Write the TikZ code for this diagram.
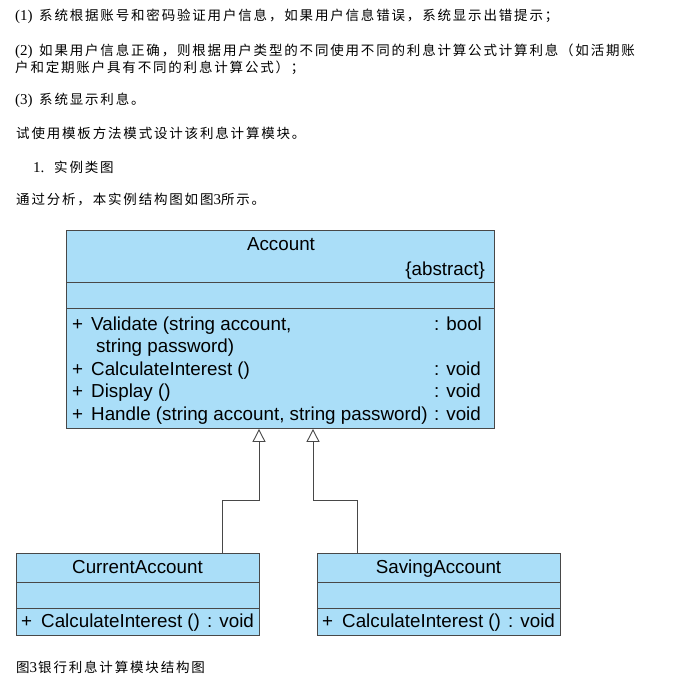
\documentclass[tikz,border=0pt]{standalone}
\usepackage{fontspec}
\setmainfont{Liberation Serif}
\newfontfamily\umlfont{Liberation Sans}
\newfontfamily\cjk[LetterSpace=13.5]{Noto Sans CJK SC}
\newcommand\cj[1]{{\cjk\fontsize{13.5}{16}\selectfont #1}}
\usetikzlibrary{arrows.meta}
\definecolor{umlfill}{RGB}{170,222,248}
\definecolor{umlline}{RGB}{72,72,72}
\tikzset{
  box/.style={draw=umlline, fill=umlfill, line width=0.9pt, rectangle, inner sep=0pt, anchor=north west},
  umltext/.style={font=\umlfont\fontsize{18.8}{22}\selectfont, inner sep=0pt, anchor=base west},
  umlcenter/.style={font=\umlfont\fontsize{18.8}{22}\selectfont, inner sep=0pt, anchor=base},
  para/.style={font=\fontsize{15}{18}\selectfont, inner sep=0pt, anchor=base west},
  gen/.style={draw=umlline, line width=0.9pt, -{Triangle[open, length=13pt, width=13pt]}}
}
\begin{document}
\begin{tikzpicture}[x=1pt,y=-1pt]
\useasboundingbox (0,0) rectangle (695,680);
\fill[white] (0,0) rectangle (695,680);

% ---- paragraph text ----
\node[para] (p1) at (15,20) {\makebox[24pt][l]{(1)}\cj{系统根据账号和密码验证用户信息，如果用户信息错误，系统显示出错提示；}};
\node[para] (p2) at (15,55) {\makebox[24pt][l]{(2)}\cj{如果用户信息正确，则根据用户类型的不同使用不同的利息计算公式计算利息（如活期账}};
\node[para] (p2b) at (15,72) {\cj{户和定期账户具有不同的利息计算公式）；}};
\node[para] (p3) at (15,104) {\makebox[24pt][l]{(3)}\cj{系统显示利息。}};
\node[para] (p4) at (16,138) {\cj{试使用模板方法模式设计该利息计算模块。}};
\node[para] (p5) at (33,172) {\makebox[21pt][l]{1.}\cj{实例类图}};
\node[para] (p6) at (16,204) {\cj{通过分析，本实例结构图如图}3\cj{所示。}};
\node[para] (cap) at (16,672) {\cj{图}3\hspace{1pt}\cj{银行利息计算模块结构图}};

% ---- Account ----
\node[box, minimum width=428pt, minimum height=52pt] (acc) at (66,230) {};
\node[box, minimum width=428pt, minimum height=26pt] (accA) at (66,282) {};
\node[box, minimum width=428pt, minimum height=120pt] (accM) at (66,308) {};
\node[umlcenter] (accN) at (281,250) {Account};
\node[umltext, anchor=base east] (accAb) at (485,275) {\{abstract\}};
\node[umltext] (m1p) at (72,330) {+};
\node[umltext] (m1) at (91,330) {Validate (string account,};
\node[umltext] (m1b) at (96,352.5) {string password)};
\node[umltext] (m1r) at (434,330) {: bool};
\node[umltext] (m2p) at (72,375) {+};
\node[umltext] (m2) at (91,375) {CalculateInterest ()};
\node[umltext] (m2r) at (434,375) {: void};
\node[umltext] (m3p) at (72,397.5) {+};
\node[umltext] (m3) at (91,397.5) {Display ()};
\node[umltext] (m3r) at (434,397.5) {: void};
\node[umltext] (m4p) at (72,420) {+};
\node[umltext] (m4) at (91,420) {Handle (string account, string password)};
\node[umltext] (m4r) at (434,420) {: void};

% ---- CurrentAccount ----
\node[box, minimum width=243pt, minimum height=29pt] (cur) at (16,553) {};
\node[box, minimum width=243pt, minimum height=26pt] (curA) at (16,582) {};
\node[box, minimum width=243pt, minimum height=27pt] (curM) at (16,608) {};
\node[umlcenter] (curN) at (137.5,573) {CurrentAccount};
\node[umltext] (c1p) at (21,627) {+};
\node[umltext] (c1m) at (41,627) {CalculateInterest ()\hspace{2pt} : void};

% ---- SavingAccount ----
\node[box, minimum width=243pt, minimum height=29pt] (sav) at (317,553) {};
\node[box, minimum width=243pt, minimum height=26pt] (savA) at (317,582) {};
\node[box, minimum width=243pt, minimum height=27pt] (savM) at (317,608) {};
\node[umlcenter] (savN) at (438.5,573) {SavingAccount};
\node[umltext] (s1p) at (322,627) {+};
\node[umltext] (s1m) at (342,627) {CalculateInterest ()\hspace{2pt} : void};

% ---- generalisation connectors ----
\coordinate (cx) at (222,0);
\coordinate (ck) at (259,500);
\coordinate (sx) at (357,0);
\coordinate (sk) at (313,500);
\draw[gen] (cur.north -| cx) |- (ck) -- (accM.south -| ck);
\draw[gen] (sav.north -| sx) |- (sk) -- (accM.south -| sk);
\end{tikzpicture}
\end{document}
